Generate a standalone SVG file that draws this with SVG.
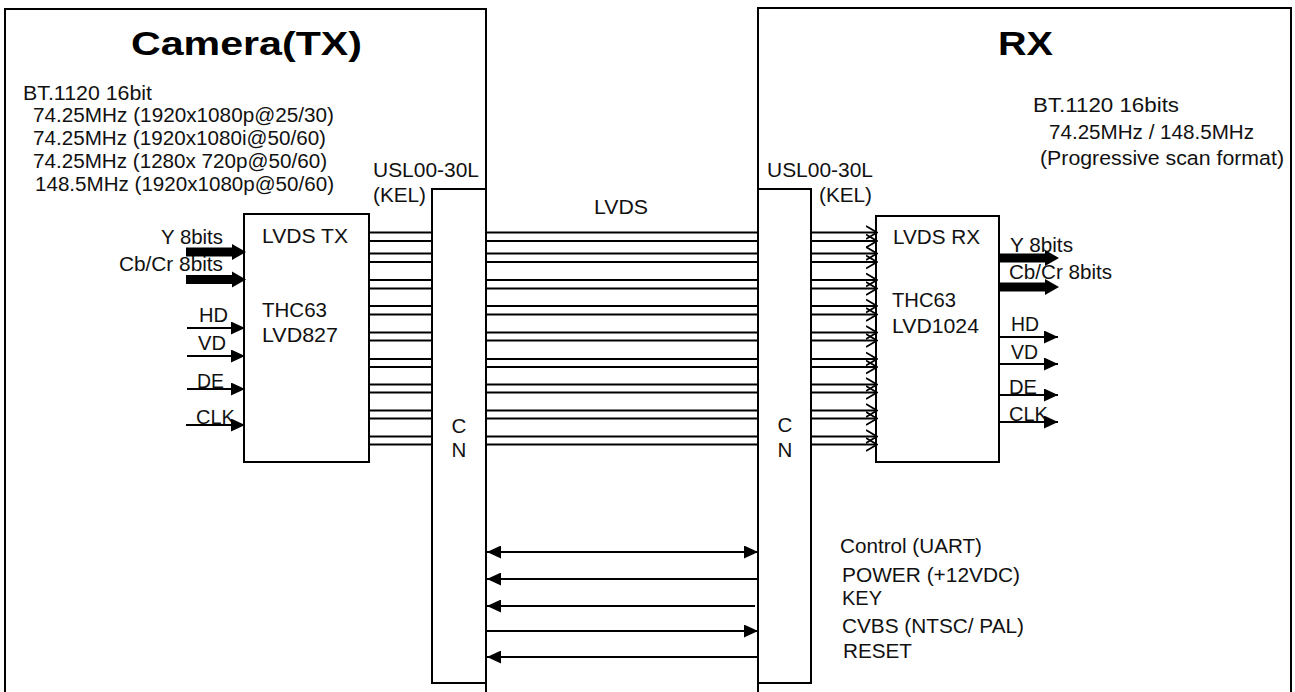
<svg xmlns="http://www.w3.org/2000/svg" width="1295" height="692" viewBox="0 0 1295 692">
<style>
  .box { fill: none; stroke: #000; stroke-width: 2; }
  .ln { stroke: #000; stroke-width: 2; fill: none; }
  .t { font-family: "Liberation Sans", Arial, sans-serif; font-size: 20.5px; fill: #111; }
  .title { font-family: "Liberation Sans", Arial, sans-serif; font-size: 33px; font-weight: bold; fill: #000; }
  .thick { fill: #000; }
</style>
<defs>
  <marker id="ah" viewBox="0 0 14 13" refX="14" refY="6.5" markerWidth="14" markerHeight="13" markerUnits="userSpaceOnUse" orient="auto-start-reverse">
    <path d="M0,0 L14,6.5 L0,13 z" fill="#000"/>
  </marker>
  <marker id="chev" viewBox="0 0 12 16" refX="11" refY="8" markerWidth="12" markerHeight="16" markerUnits="userSpaceOnUse" orient="auto">
    <path d="M0,1.5 L11,8 L0,14.5" fill="none" stroke="#000" stroke-width="1.8"/>
  </marker>
</defs>
<rect width="1295" height="692" fill="#fff"/>

<g id="camera">
  <path class="box" d="M5,700 L5,9 L486,9 L486,700"/>
  <text class="title" x="131" y="55" textLength="231" lengthAdjust="spacingAndGlyphs">Camera(TX)</text>
  <text class="t" x="23" y="100" textLength="129" lengthAdjust="spacingAndGlyphs">BT.1120 16bit</text>
  <text class="t" x="33" y="122" textLength="301" lengthAdjust="spacingAndGlyphs">74.25MHz (1920x1080p@25/30)</text>
  <text class="t" x="33" y="145" textLength="293" lengthAdjust="spacingAndGlyphs">74.25MHz (1920x1080i@50/60)</text>
  <text class="t" x="33" y="168" textLength="294" lengthAdjust="spacingAndGlyphs">74.25MHz (1280x 720p@50/60)</text>
  <text class="t" x="35" y="191" textLength="299" lengthAdjust="spacingAndGlyphs">148.5MHz (1920x1080p@50/60)</text>
  <text class="t" x="373" y="177" textLength="106" lengthAdjust="spacingAndGlyphs">USL00-30L</text>
  <text class="t" x="373" y="202" textLength="53" lengthAdjust="spacingAndGlyphs">(KEL)</text>
  <text class="t" x="161" y="244" textLength="62" lengthAdjust="spacingAndGlyphs">Y 8bits</text>
  <text class="t" x="119" y="271" textLength="104" lengthAdjust="spacingAndGlyphs">Cb/Cr 8bits</text>
  <text class="t" x="199" y="322" textLength="29" lengthAdjust="spacingAndGlyphs">HD</text>
  <text class="t" x="198" y="350" textLength="28" lengthAdjust="spacingAndGlyphs">VD</text>
  <text class="t" x="197" y="388" textLength="27" lengthAdjust="spacingAndGlyphs">DE</text>
  <text class="t" x="196" y="424" textLength="39" lengthAdjust="spacingAndGlyphs">CLK</text>
</g>

<g id="lvds-tx">
  <rect class="box" x="244" y="214" width="125" height="248"/>
  <text class="t" x="262" y="243" textLength="86" lengthAdjust="spacingAndGlyphs">LVDS TX</text>
  <text class="t" x="262" y="317" textLength="65" lengthAdjust="spacingAndGlyphs">THC63</text>
  <text class="t" x="262" y="342" textLength="76" lengthAdjust="spacingAndGlyphs">LVD827</text>
</g>

<g id="cn-tx">
  <rect class="box" x="432" y="189" width="54" height="494"/>
  <text class="t" x="459" y="433" text-anchor="middle">C</text>
  <text class="t" x="459" y="457" text-anchor="middle">N</text>
</g>

<g id="rx">
  <path class="box" d="M758,700 L758,8 L1291,8 L1291,700"/>
  <text class="title" x="998" y="55" textLength="55" lengthAdjust="spacingAndGlyphs">RX</text>
  <text class="t" x="1033" y="112" textLength="146" lengthAdjust="spacingAndGlyphs">BT.1120 16bits</text>
  <text class="t" x="1049" y="139" textLength="205" lengthAdjust="spacingAndGlyphs">74.25MHz / 148.5MHz</text>
  <text class="t" x="1040" y="165" textLength="244" lengthAdjust="spacingAndGlyphs">(Progressive scan format)</text>
  <text class="t" x="767" y="177" textLength="106" lengthAdjust="spacingAndGlyphs">USL00-30L</text>
  <text class="t" x="819" y="202" textLength="53" lengthAdjust="spacingAndGlyphs">(KEL)</text>
  <text class="t" x="1010" y="252" textLength="63" lengthAdjust="spacingAndGlyphs">Y 8bits</text>
  <text class="t" x="1009" y="279" textLength="103" lengthAdjust="spacingAndGlyphs">Cb/Cr 8bits</text>
  <text class="t" x="1011" y="331" textLength="28" lengthAdjust="spacingAndGlyphs">HD</text>
  <text class="t" x="1011" y="359" textLength="27" lengthAdjust="spacingAndGlyphs">VD</text>
  <text class="t" x="1009" y="394" textLength="28" lengthAdjust="spacingAndGlyphs">DE</text>
  <text class="t" x="1009" y="421" textLength="39" lengthAdjust="spacingAndGlyphs">CLK</text>
  <text class="t" x="840" y="553" textLength="142" lengthAdjust="spacingAndGlyphs">Control (UART)</text>
  <text class="t" x="842" y="582" textLength="178" lengthAdjust="spacingAndGlyphs">POWER (+12VDC)</text>
  <text class="t" x="842" y="605" textLength="40" lengthAdjust="spacingAndGlyphs">KEY</text>
  <text class="t" x="842" y="633" textLength="182" lengthAdjust="spacingAndGlyphs">CVBS (NTSC/ PAL)</text>
  <text class="t" x="843" y="658" textLength="69" lengthAdjust="spacingAndGlyphs">RESET</text>
</g>

<g id="cn-rx">
  <rect class="box" x="758" y="189" width="53" height="494"/>
  <text class="t" x="785" y="432" text-anchor="middle">C</text>
  <text class="t" x="785" y="457" text-anchor="middle">N</text>
</g>

<g id="lvds-rx">
  <rect class="box" x="876" y="216" width="123" height="246"/>
  <text class="t" x="893" y="244" textLength="87" lengthAdjust="spacingAndGlyphs">LVDS RX</text>
  <text class="t" x="892" y="307" textLength="64" lengthAdjust="spacingAndGlyphs">THC63</text>
  <text class="t" x="892" y="333" textLength="87" lengthAdjust="spacingAndGlyphs">LVD1024</text>
</g>

<g id="lvds-label">
  <text class="t" x="594" y="214" textLength="54" lengthAdjust="spacingAndGlyphs">LVDS</text>
</g>

<g id="connectors">
  <path class="thick" d="M186,247.5 L232,247.5 L232,244 L246,252 L232,260 L232,256.5 L186,256.5 z"/>
  <path class="thick" d="M186,275 L232,275 L232,271.5 L246,279.5 L232,287.5 L232,284 L186,284 z"/>
  <line class="ln" x1="187" y1="328" x2="245" y2="328" marker-end="url(#ah)"/>
  <line class="ln" x1="187" y1="356" x2="245" y2="356" marker-end="url(#ah)"/>
  <line class="ln" x1="187" y1="389" x2="245" y2="389" marker-end="url(#ah)"/>
  <line class="ln" x1="186" y1="425" x2="245" y2="425" marker-end="url(#ah)"/>

  <g class="ln">
    <path d="M369,232.5 H432 M369,241 H432 M369,253.5 H432 M369,262 H432 M369,280 H432 M369,288.5 H432 M369,306 H432 M369,314.5 H432 M369,332.5 H432 M369,340.5 H432 M369,359 H432 M369,367 H432 M369,384.5 H432 M369,392.5 H432 M369,410.5 H432 M369,418.5 H432 M369,436.5 H432 M369,444.5 H432"/>
    <path d="M486,232.5 H758 M486,241 H758 M486,253.5 H758 M486,262 H758 M486,280 H758 M486,288.5 H758 M486,306 H758 M486,314.5 H758 M486,332.5 H758 M486,340.5 H758 M486,359 H758 M486,367 H758 M486,384.5 H758 M486,392.5 H758 M486,410.5 H758 M486,418.5 H758 M486,436.5 H758 M486,444.5 H758"/>
  </g>
  <g class="ln" marker-end="url(#chev)">
    <line x1="811" y1="232.5" x2="877" y2="232.5"/>
    <line x1="811" y1="241" x2="877" y2="241"/>
    <line x1="811" y1="253.5" x2="877" y2="253.5"/>
    <line x1="811" y1="262" x2="877" y2="262"/>
    <line x1="811" y1="280" x2="877" y2="280"/>
    <line x1="811" y1="288.5" x2="877" y2="288.5"/>
    <line x1="811" y1="306" x2="877" y2="306"/>
    <line x1="811" y1="314.5" x2="877" y2="314.5"/>
    <line x1="811" y1="332.5" x2="877" y2="332.5"/>
    <line x1="811" y1="340.5" x2="877" y2="340.5"/>
    <line x1="811" y1="359" x2="877" y2="359"/>
    <line x1="811" y1="367" x2="877" y2="367"/>
    <line x1="811" y1="384.5" x2="877" y2="384.5"/>
    <line x1="811" y1="392.5" x2="877" y2="392.5"/>
    <line x1="811" y1="410.5" x2="877" y2="410.5"/>
    <line x1="811" y1="418.5" x2="877" y2="418.5"/>
    <line x1="811" y1="436.5" x2="877" y2="436.5"/>
    <line x1="811" y1="444.5" x2="877" y2="444.5"/>
  </g>

  <path class="thick" d="M999,253.5 L1045,253.5 L1045,250 L1059,258 L1045,266 L1045,262.5 L999,262.5 z"/>
  <path class="thick" d="M999,282.5 L1045,282.5 L1045,279 L1059,287 L1045,295 L1045,291.5 L999,291.5 z"/>
  <line class="ln" x1="999" y1="337" x2="1058" y2="337" marker-end="url(#ah)"/>
  <line class="ln" x1="999" y1="364" x2="1058" y2="364" marker-end="url(#ah)"/>
  <line class="ln" x1="999" y1="395" x2="1058" y2="395" marker-end="url(#ah)"/>
  <line class="ln" x1="999" y1="422" x2="1058" y2="422" marker-end="url(#ah)"/>

  <line class="ln" x1="487" y1="552" x2="758" y2="552" marker-start="url(#ah)" marker-end="url(#ah)"/>
  <line class="ln" x1="758" y1="579" x2="487" y2="579" marker-end="url(#ah)"/>
  <line class="ln" x1="755" y1="606" x2="487" y2="606" marker-end="url(#ah)"/>
  <line class="ln" x1="487" y1="631" x2="758" y2="631" marker-end="url(#ah)"/>
  <line class="ln" x1="758" y1="657" x2="487" y2="657" marker-end="url(#ah)"/>
</g>
</svg>
